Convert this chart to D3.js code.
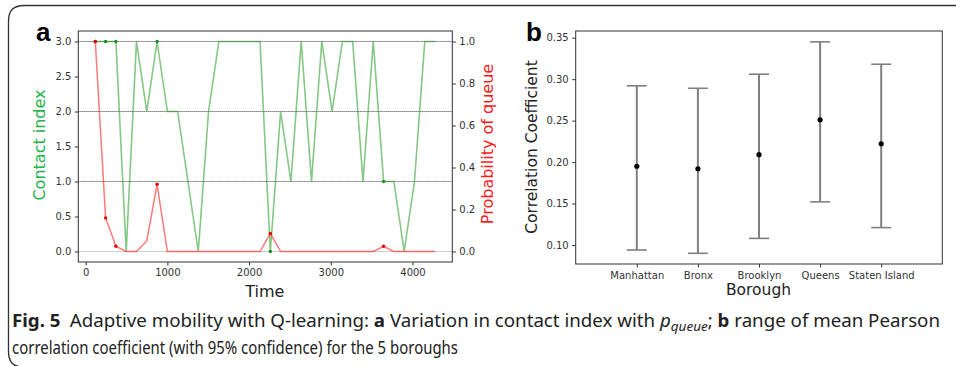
<!DOCTYPE html>
<html>
<head>
    <title>Fig. 5 Adaptive mobility with Q-learning</title>
    <script src="https://cdn.jsdelivr.net/npm/d3@7"></script>
</head>
<body style="margin: 0; background: #fff">
<svg width="956" height="366"></svg>

<script>
    const svg = d3.select("svg");
    const tickFont = "DejaVu Sans, sans-serif";

    // Panel a data
    const times = [118, 244, 370, 496, 622, 748, 874, 1000, 1126, 1252, 1378, 1504,
        1630, 1756, 1882, 2008, 2134, 2260, 2386, 2512, 2638, 2764, 2890, 3016,
        3142, 3268, 3394, 3520, 3646, 3772, 3898, 4024, 4150, 4276];
    const contactIndex = [3, 3, 3, 0, 3, 2, 3, 2, 2, 1, 0, 2, 3, 3, 3, 3, 3, 0,
        2, 1, 3, 1, 3, 2, 3, 3, 1, 3, 1, 1, 0, 1, 3, 3];
    const queueProb = [1.0, 0.16, 0.025, 0, 0, 0.05, 0.32, 0, 0, 0, 0, 0, 0, 0, 0, 0, 0,
        0.086, 0, 0, 0, 0, 0, 0, 0, 0, 0, 0, 0.025, 0, 0, 0, 0, 0];
    const markedPoints = [0, 1, 2, 6, 17, 28];
    const timeTicks = [0, 1000, 2000, 3000, 4000];
    const contactTicks = [0, 0.5, 1, 1.5, 2, 2.5, 3];
    const probTicks = [0, 0.2, 0.4, 0.6, 0.8, 1.0];
    const refLines = [1, 2, 3];

    // Panel b data
    const boroughs = ["Manhattan", "Bronx", "Brooklyn", "Queens", "Staten Island"];
    const meanCorr = [0.195, 0.192, 0.209, 0.251, 0.222];
    const lowerCI = [0.094, 0.090, 0.108, 0.152, 0.121];
    const upperCI = [0.292, 0.289, 0.306, 0.345, 0.318];
    const corrTicks = [0.10, 0.15, 0.20, 0.25, 0.30, 0.35];

    // figure frame
    svg.append("path")
        .attr("d", "M8.5,352 Q8.5,367 23,367 M8.5,352 L8.5,21 Q8.5,5.5 24,5.5 L956,5.5")
        .attr("fill", "none")
        .attr("stroke", "#333")
        .attr("stroke-width", 1.3);

    // ---------- panel a ----------
    const a = { left: 78.3, right: 452.3, top: 31, bottom: 262 };
    const x = d3.scaleLinear().domain([-90, 4487]).range([a.left, a.right]);
    const y = d3.scaleLinear().domain([-0.15, 3.15]).range([a.bottom, a.top]);
    const y2 = d3.scaleLinear().domain([-0.05, 1.05]).range([a.bottom, a.top]);

    const ga = svg.append("g");

    // reference lines
    ga.selectAll(".ref0")
        .data([0].concat(refLines))
        .enter().append("line")
        .attr("x1", a.left).attr("x2", a.right)
        .attr("y1", d => y(d)).attr("y2", d => y(d))
        .attr("stroke", "#cfcfcf")
        .attr("stroke-width", 1);
    ga.selectAll(".ref")
        .data(refLines)
        .enter().append("line")
        .attr("x1", a.left).attr("x2", a.right)
        .attr("y1", d => y(d)).attr("y2", d => y(d))
        .attr("stroke", "#555")
        .attr("stroke-width", 0.8)
        .attr("stroke-dasharray", "1,1");

    // contact index line
    const green = d3.line().x((d, i) => x(times[i])).y(d => y(d));
    ga.append("path")
        .attr("d", green(contactIndex))
        .attr("fill", "none")
        .attr("stroke", "#1f9a1f")
        .attr("stroke-opacity", 0.55)
        .attr("stroke-width", 1.6);
    ga.selectAll(".gdot")
        .data(markedPoints)
        .enter().append("circle")
        .attr("cx", i => x(times[i]))
        .attr("cy", i => y(contactIndex[i]))
        .attr("r", 1.7)
        .attr("fill", "#1a8a1a");

    // queue probability line
    const red = d3.line().x((d, i) => x(times[i])).y(d => y2(d));
    ga.append("path")
        .attr("d", red(queueProb))
        .attr("fill", "none")
        .attr("stroke", "#ff2020")
        .attr("stroke-opacity", 0.6)
        .attr("stroke-width", 1.5);
    ga.selectAll(".rdot")
        .data(markedPoints)
        .enter().append("circle")
        .attr("cx", i => x(times[i]))
        .attr("cy", i => y2(queueProb[i]))
        .attr("r", 1.7)
        .attr("fill", "#e00000");

    // box
    ga.append("rect")
        .attr("x", a.left).attr("y", a.top)
        .attr("width", a.right - a.left).attr("height", a.bottom - a.top)
        .attr("fill", "none")
        .attr("stroke", "#333")
        .attr("stroke-width", 1);

    function styleAxis(g) {
        g.select(".domain").remove();
        g.selectAll(".tick line").attr("stroke", "#333");
        g.selectAll(".tick text")
            .attr("font-family", tickFont)
            .attr("font-size", "10px")
            .attr("fill", "#333");
    }

    ga.append("g")
        .attr("transform", `translate(0,${a.bottom})`)
        .call(d3.axisBottom(x).tickValues(timeTicks).tickFormat(d3.format("d")).tickSize(3.5).tickPadding(3))
        .call(styleAxis);
    ga.append("g")
        .attr("transform", `translate(${a.left},0)`)
        .call(d3.axisLeft(y).tickValues(contactTicks).tickFormat(d3.format(".1f")).tickSize(3.5).tickPadding(3.5))
        .call(styleAxis);
    ga.append("g")
        .attr("transform", `translate(${a.right},0)`)
        .call(d3.axisRight(y2).tickValues(probTicks).tickFormat(d3.format(".1f")).tickSize(3.5).tickPadding(3.5))
        .call(styleAxis);

    ga.append("text")
        .attr("x", (a.left + a.right) / 2 - 0.5)
        .attr("y", 296.5)
        .attr("text-anchor", "middle")
        .attr("font-family", tickFont)
        .attr("font-size", "16px")
        .attr("fill", "#222")
        .text("Time");
    ga.append("text")
        .attr("transform", "translate(45,145) rotate(-90)")
        .attr("text-anchor", "middle")
        .attr("font-family", tickFont)
        .attr("font-size", "16px")
        .attr("fill", "#22b34a")
        .text("Contact index");
    ga.append("text")
        .attr("transform", "translate(493,144) rotate(-90)")
        .attr("text-anchor", "middle")
        .attr("font-family", tickFont)
        .attr("font-size", "16px")
        .attr("fill", "#ff1a1a")
        .text("Probability of queue");

    // ---------- panel b ----------
    const b = { left: 575.7, right: 942.3, top: 31, bottom: 264 };
    const bx = d3.scaleLinear().domain([-1, 5]).range([b.left, b.right]);
    const by = d3.scaleLinear().domain([0.0771, 0.3581]).range([b.bottom, b.top]);

    const gb = svg.append("g");

    gb.selectAll(".bar")
        .data(boroughs)
        .enter().append("line")
        .attr("x1", (d, i) => bx(i)).attr("x2", (d, i) => bx(i))
        .attr("y1", (d, i) => by(lowerCI[i])).attr("y2", (d, i) => by(upperCI[i]))
        .attr("stroke", "#808080")
        .attr("stroke-width", 2);
    gb.selectAll(".capHi")
        .data(boroughs)
        .enter().append("line")
        .attr("x1", (d, i) => bx(i) - 10).attr("x2", (d, i) => bx(i) + 10)
        .attr("y1", (d, i) => by(upperCI[i])).attr("y2", (d, i) => by(upperCI[i]))
        .attr("stroke", "#808080")
        .attr("stroke-width", 1.6);
    gb.selectAll(".capLo")
        .data(boroughs)
        .enter().append("line")
        .attr("x1", (d, i) => bx(i) - 10).attr("x2", (d, i) => bx(i) + 10)
        .attr("y1", (d, i) => by(lowerCI[i])).attr("y2", (d, i) => by(lowerCI[i]))
        .attr("stroke", "#808080")
        .attr("stroke-width", 1.6);
    gb.selectAll(".mean")
        .data(meanCorr)
        .enter().append("circle")
        .attr("cx", (d, i) => bx(i))
        .attr("cy", d => by(d))
        .attr("r", 2.6)
        .attr("fill", "#000");

    gb.append("rect")
        .attr("x", b.left).attr("y", b.top)
        .attr("width", b.right - b.left).attr("height", b.bottom - b.top)
        .attr("fill", "none")
        .attr("stroke", "#333")
        .attr("stroke-width", 1);

    gb.append("g")
        .attr("transform", `translate(0,${b.bottom})`)
        .call(d3.axisBottom(bx).tickValues(d3.range(boroughs.length)).tickFormat(i => boroughs[i]).tickSize(3.5).tickPadding(4))
        .call(styleAxis);
    gb.append("g")
        .attr("transform", `translate(${b.left},0)`)
        .call(d3.axisLeft(by).tickValues(corrTicks).tickFormat(d3.format(".2f")).tickSize(3.5).tickPadding(3.5))
        .call(styleAxis);

    gb.append("text")
        .attr("x", 758.5)
        .attr("y", 294.5)
        .attr("text-anchor", "middle")
        .attr("font-family", tickFont)
        .attr("font-size", "15.5px")
        .attr("fill", "#222")
        .text("Borough");
    gb.append("text")
        .attr("transform", "translate(537,147) rotate(-90)")
        .attr("text-anchor", "middle")
        .attr("font-family", tickFont)
        .attr("font-size", "15.5px")
        .attr("fill", "#222")
        .text("Correlation Coefficient");

    // panel letters
    svg.selectAll(".letter")
        .data([{ t: "a", x: 36 }, { t: "b", x: 526 }])
        .enter().append("text")
        .attr("x", d => d.x)
        .attr("y", 40.5)
        .attr("font-family", "Liberation Sans, Arial, sans-serif")
        .attr("font-weight", "bold")
        .attr("font-size", "26px")
        .attr("fill", "#000")
        .text(d => d.t);

    // caption
    const capFont = "Liberation Sans Narrow, Noto Sans, sans-serif";
    const cap1 = svg.append("text")
        .attr("x", 12).attr("y", 327)
        .attr("font-family", capFont)
        .attr("font-size", "18px")
        .attr("fill", "#222")
        .attr("textLength", 928)
        .attr("lengthAdjust", "spacingAndGlyphs");
    cap1.append("tspan").attr("font-weight", "bold").text("Fig. 5");
    cap1.append("tspan").text("\u2002Adaptive mobility with Q-learning: ");
    cap1.append("tspan").attr("font-weight", "bold").text("a");
    cap1.append("tspan").text(" Variation in contact index with ");
    cap1.append("tspan").attr("font-style", "italic").text("p");
    cap1.append("tspan").attr("font-style", "italic").attr("font-size", "13px").attr("dy", 4).text("queue");
    cap1.append("tspan").attr("dy", -4).text("; ");
    cap1.append("tspan").attr("font-weight", "bold").text("b");
    cap1.append("tspan").text(" range of mean Pearson");

    svg.append("text")
        .attr("x", 12).attr("y", 354)
        .attr("font-family", capFont)
        .attr("font-size", "18px")
        .attr("fill", "#222")
        .attr("textLength", 446)
        .attr("lengthAdjust", "spacingAndGlyphs")
        .text("correlation coefficient (with 95% confidence) for the 5 boroughs");
</script>
</body>
</html>
